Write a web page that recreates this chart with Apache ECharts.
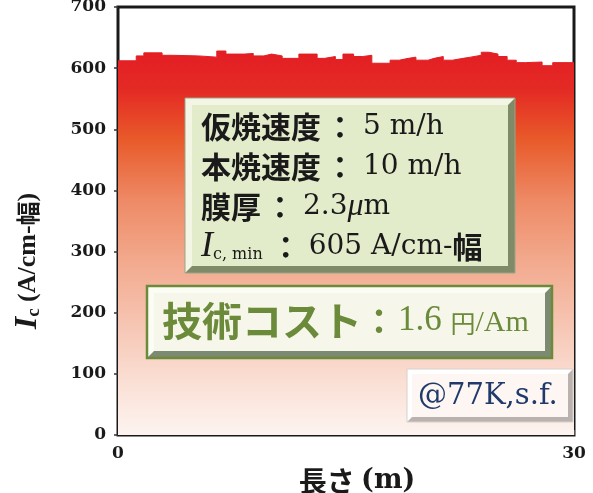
<!DOCTYPE html>
<html><head><meta charset="utf-8">
<script src="https://cdn.jsdelivr.net/npm/echarts@6/dist/echarts.min.js"></script>
<style>html,body{margin:0;padding:0;background:#fff}#c{width:593px;height:493px}</style>
</head><body><div id="c"></div>
<script>
// Length positions (m) where each step starts
const positions = [0, 1.2, 1.7, 2.9, 3.6, 5.3, 6.5, 7.1, 8.3, 8.9, 9.6, 10.1, 10.8, 11.9, 13.1, 13.6, 14.3, 14.8, 15.5, 16.1, 16.7, 17.9, 18.5, 19.1, 19.6, 20.4, 20.8, 21.4, 22.0, 22.7, 23.2, 23.9, 24.4, 25.0, 25.6, 26.2, 26.8, 27.9, 28.6, 30];
// Critical current Ic (A/cm-width)
const icValues = [612, 620, 625, 621, 620, 618, 628, 623, 624, 620, 623, 620, 616, 623, 616, 619, 614, 623, 619, 621, 608, 613, 616, 618, 613, 616, 619, 613, 616, 618, 621, 626, 623, 619, 613, 609, 610, 604, 609, 609];
const yTicks = [0, 100, 200, 300, 400, 500, 600, 700];
const xTickLabels = ['0', '30'];

const serif = '"Liberation Serif","DejaVu Serif","Noto Sans CJK JP",serif';
const wide = '"DejaVu Serif","Liberation Serif",serif';
const cjk = '"Noto Sans CJK JP",sans-serif';
const data = positions.map((x, i) => [x, icValues[i]]);

const chart = echarts.init(document.getElementById('c'), null, {renderer: 'canvas'});

function bevelBox(x, y, w, h, b, face, light, dark, border, borderW) {
  const els = [];
  els.push({type: 'rect', shape: {x: x, y: y, width: w, height: h}, style: {fill: dark}, z: 100});
  els.push({type: 'polygon', shape: {points: [[x, y], [x + w, y], [x + w - b, y + b], [x + b, y + h - b], [x, y + h]]}, style: {fill: light}, z: 101});
  els.push({type: 'rect', shape: {x: x + b, y: y + b, width: w - 2 * b, height: h - 2 * b}, style: {fill: face}, z: 102});
  if (border) {
    els.push({type: 'rect', shape: {x: x, y: y, width: w, height: h}, style: {fill: 'none', stroke: border, lineWidth: borderW}, z: 103});
  }
  return els;
}

const graphics = [].concat(
  bevelBox(185, 98, 330, 175, 7, '#e3ecca', '#f3f6e4', '#7e8a68', '#9aa585', 1),
  bevelBox(147, 286, 405, 72, 7, '#f6f7ea', '#fbfcf3', '#7c8a72', '#6b8a3a', 2.5),
  bevelBox(407, 369, 166, 53, 5, '#fdf6f2', '#ffffff', '#b9b2ae', '#d8d0cc', 1),
  [
    {type: 'text', left: 201, top: 112, z: 110, style: {
      text: '{j|仮焼速度}{c|：}{l|5 m/h}\n{j|本焼速度}{c|：}{l|10 m/h}\n{j|膜厚}{c|：}{l|2.3}{mu|μ}{l|m}\n{it|I}{sub|c, min}{c|：}{l|605 A/cm-}{j|幅}',
      rich: {
        j: {fontFamily: cjk, fontSize: 30, fontWeight: 'bold', fill: '#1a1a1a', lineHeight: 40},
        c: {fontFamily: cjk, fontSize: 30, fontWeight: 'bold', fill: '#1a1a1a', lineHeight: 40, padding: [0, 8, 0, 4]},
        l: {fontFamily: wide, fontSize: 28, fill: '#1a1a1a', lineHeight: 40},
        mu: {fontFamily: serif, fontSize: 32, fontStyle: 'italic', fill: '#1a1a1a', lineHeight: 40},
        it: {fontFamily: serif, fontSize: 36, fontStyle: 'italic', fill: '#1a1a1a', lineHeight: 40},
        sub: {fontFamily: wide, fontSize: 16, fill: '#1a1a1a', lineHeight: 40, padding: [16, 4, 0, 0]}
      }
    }},
    {type: 'text', left: 162, top: 301, z: 110, style: {
      text: '{j|技術コスト}{c|：}{l|1.6 }{s|円}{a|/Am}',
      rich: {
        j: {fontFamily: cjk, fontSize: 40, fontWeight: 'bold', fill: '#6b8a3a', lineHeight: 40},
        c: {fontFamily: cjk, fontSize: 34, fontWeight: 'bold', fill: '#6b8a3a', lineHeight: 40, padding: [0, 2, 0, 0]},
        l: {fontFamily: serif, fontSize: 35, fill: '#6b8a3a', lineHeight: 40},
        s: {fontFamily: cjk, fontSize: 25, fill: '#6b8a3a', lineHeight: 40, padding: [4, 0, 0, 0]},
        a: {fontFamily: serif, fontSize: 30, fill: '#6b8a3a', lineHeight: 40, padding: [4, 0, 0, 0]}
      }
    }},
    {type: 'text', left: 418, top: 382, z: 110, style: {
      text: '@77K,s.f.', fontFamily: wide, fontSize: 29, fill: '#1f3a6b'
    }}
  ]
);

chart.setOption({
  animation: false,
  grid: {left: 118, right: 19, top: 7, bottom: 58, show: true, borderColor: '#1a1a1a', borderWidth: 3, backgroundColor: '#fff', containLabel: false, outerBoundsMode: 'none'},
  xAxis: {
    type: 'value', min: 0, max: 30, interval: 10,
    name: '{j|長さ }{l|(m)}', nameLocation: 'middle', nameGap: 24,
    nameTextStyle: {
      padding: [0, 0, 0, 22],
      rich: {
        j: {fontFamily: cjk, fontSize: 28, fontWeight: 'bold', color: '#1a1a1a'},
        l: {fontFamily: wide, fontSize: 27, fontWeight: 'bold', color: '#1a1a1a'}
      }
    },
    axisLine: {show: false},
    axisTick: {show: true, inside: true, length: 5, lineStyle: {color: '#555', width: 1}},
    splitLine: {show: false},
    axisLabel: {
      fontFamily: wide, fontSize: 17, fontWeight: 'bold', color: '#1a1a1a', margin: 10,
      formatter: v => (v === 0 ? xTickLabels[0] : (v === 30 ? xTickLabels[1] : ''))
    }
  },
  yAxis: {
    type: 'value', min: yTicks[0], max: yTicks[yTicks.length - 1], interval: 100,
    name: '{it|I}{sub|c}{t| (A/cm-}{j|幅}{t|)}', nameLocation: 'middle', nameGap: 74, nameRotate: 90,
    nameTextStyle: {
      padding: [0, 80, 0, 0],
      rich: {
        it: {fontFamily: serif, fontSize: 32, fontStyle: 'italic', fontWeight: 'bold', color: '#1a1a1a'},
        sub: {fontFamily: serif, fontSize: 19, fontWeight: 'bold', color: '#1a1a1a', padding: [12, 0, 0, 0]},
        t: {fontFamily: serif, fontSize: 26, fontWeight: 'bold', color: '#1a1a1a'},
        j: {fontFamily: cjk, fontSize: 24, fontWeight: 'bold', color: '#1a1a1a'}
      }
    },
    axisLine: {show: false},
    axisTick: {show: true, inside: false, length: 4, lineStyle: {color: '#333', width: 1.5}},
    splitLine: {show: false},
    axisLabel: {fontFamily: wide, fontSize: 17, fontWeight: 'bold', color: '#1a1a1a', margin: 12,
      formatter: v => (yTicks.indexOf(v) >= 0 ? String(v) : '')}
  },
  series: [{
    type: 'line', step: 'end', data: data, symbol: 'none', z: 2,
    lineStyle: {width: 1, color: '#e31e24'},
    areaStyle: {
      opacity: 1,
      color: new echarts.graphic.LinearGradient(0, 0, 0, 1, [
        {offset: 0, color: '#e31e24'},
        {offset: 0.1, color: '#e42a24'},
        {offset: 0.23, color: '#e85a2a'},
        {offset: 0.39, color: '#ee8a66'},
        {offset: 0.54, color: '#f2a88c'},
        {offset: 0.7, color: '#f6c3b0'},
        {offset: 0.86, color: '#fadfd4'},
        {offset: 1, color: '#fdf4f0'}
      ])
    }
  }],
  graphic: graphics
});
</script></body></html>
